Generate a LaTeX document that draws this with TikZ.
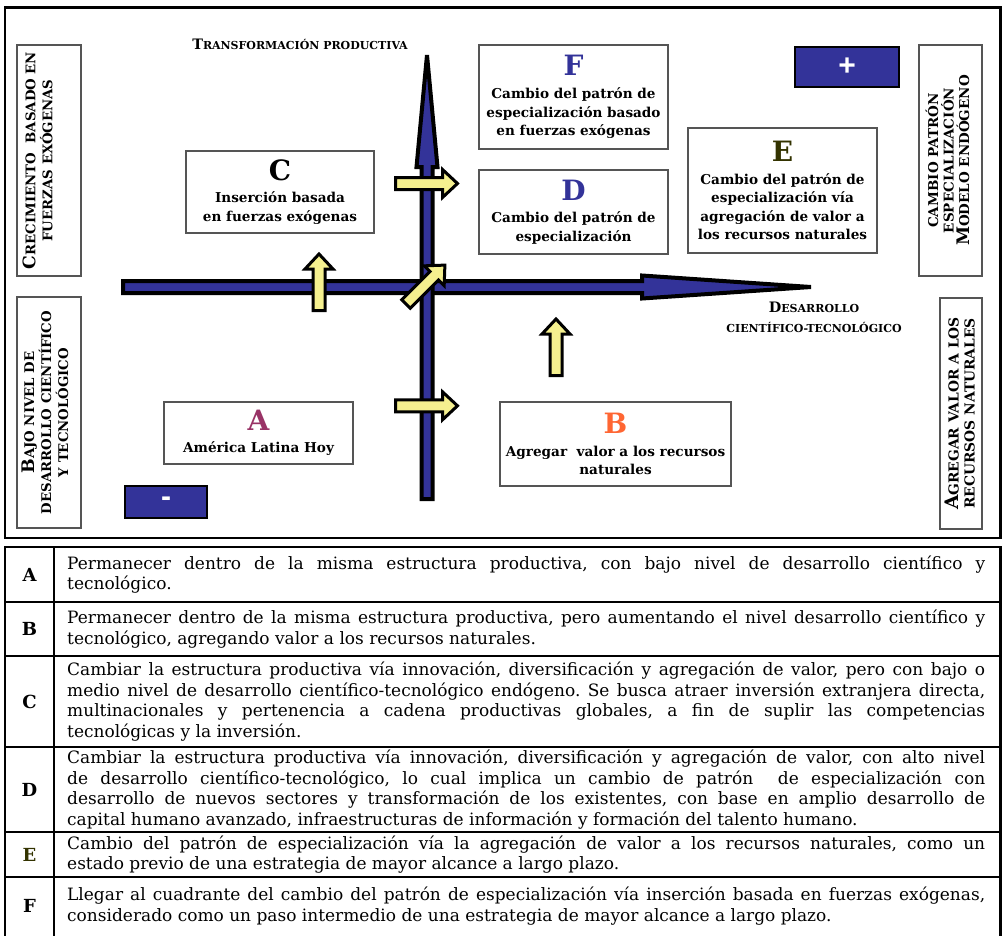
\documentclass[tikz,border=0pt]{standalone}
\usepackage{fontspec}
\setmainfont{DejaVu Serif}
\setsansfont{Liberation Sans}
\usepackage{relsize}
\definecolor{axisblue}{HTML}{333399}
\definecolor{arrowyellow}{HTML}{F5F08F}
\definecolor{boxgray}{HTML}{555555}
\definecolor{letterA}{HTML}{993366}
\definecolor{letterB}{HTML}{FF6633}
\definecolor{letterE}{HTML}{333300}
\newcommand{\quadletter}[2]{{\color{#1}\fontsize{28}{28}\selectfont #2}}
\tolerance=10000
\hyphenpenalty=10000
\exhyphenpenalty=10000
\frenchspacing
\begin{document}
\begin{tikzpicture}[x=1pt, y=-1pt,
		box/.style={draw=boxgray, line width=1.2pt, fill=white, inner sep=0pt, align=center, font=\bfseries\fontsize{13.6}{18.5}\selectfont},
		sidebox/.style={draw=boxgray, line width=1.2pt, inner sep=0pt},
		sidetext/.style={rotate=90, align=center, inner sep=0pt, font=\bfseries\fontsize{13.3}{17}\selectfont},
		signbox/.style={draw=black, line width=1.5pt, fill=axisblue, text=white, inner sep=0pt, font=\sffamily\bfseries\fontsize{30}{30}\selectfont},
		axis/.style={draw=black, line width=4pt, fill=axisblue},
		yelarrow/.style={draw=black, line width=3pt, fill=arrowyellow},
		axislabel/.style={align=center, inner sep=0pt, font=\bfseries\fontsize{11}{20}\selectfont},
		rowkey/.style={inner sep=0pt, font=\bfseries\fontsize{18}{18}\selectfont},
		rowtext/.style={anchor=west, inner sep=0pt, text width=918pt, align=justify, font=\fontsize{17}{20.5}\selectfont},
		pics/yarrow/.style={code={\draw[yelarrow] (0,-6) -- (#1-15,-6) -- (#1-15,-14) -- (#1,0) -- (#1-15,14) -- (#1-15,6) -- (0,6) -- cycle;}}]
		\useasboundingbox (0,0) rectangle (1003,935);
		\draw[line width=2.5pt] (5,7.5) rectangle (1000.5,538);

		\draw[axis] (123,281) -- (642,281) -- (642,275.5) -- (811,287) -- (642,298.5) -- (642,293) -- (123,293) -- cycle;
		\draw[axis] (421.5,499) -- (421.5,167) -- (416.5,167) -- (427,55) -- (437.5,167) -- (432.5,167) -- (432.5,499) -- cycle;

		\pic at (395.5,183.5) {yarrow=62};
		\pic at (395.5,405.8) {yarrow=62};
		\pic[rotate=90] at (319,310.5) {yarrow=56.5};
		\pic[rotate=90] at (556,375.5) {yarrow=56.5};
		\pic[rotate=45] at (406,304) {yarrow=55};

		\node[axislabel] (trans) at (300,44.5) {\textscale{1.3}{T}RANSFORMACIÓN PRODUCTIVA};
		\node[axislabel] (desa) at (814,317) {\textscale{1.3}{D}ESARROLLO\\CIENTÍFICO-TECNOLÓGICO};

		\node[box, minimum width=189, minimum height=104] (boxF) at (573.5,97) {\quadletter{axisblue}{F}\\[5pt]Cambio del patrón de\\especialización basado\\en fuerzas exógenas};
		\node[box, minimum width=189, minimum height=84] (boxD) at (573.5,212) {\quadletter{axisblue}{D}\\[4pt]Cambio del patrón de\\especialización};
		\node[box, minimum width=189, minimum height=125] (boxE) at (782.5,190.5) {\quadletter{letterE}{E}\\[4pt]Cambio del patrón de\\especialización vía\\agregación de valor a\\los recursos naturales};
		\node[box, minimum width=188, minimum height=82] (boxC) at (280,192) {\quadletter{black}{C}\\[4pt]Inserción basada\\en fuerzas exógenas};
		\node[box, minimum width=189, minimum height=62] (boxA) at (258.5,433) {\quadletter{letterA}{A}\\[4pt]América Latina Hoy};
		\node[box, minimum width=231, minimum height=84] (boxB) at (615.5,444) {\quadletter{letterB}{B}\\[4pt]Agregar~~valor a los recursos\\naturales};

		\node[signbox, minimum width=104, minimum height=40] (plus) at (847,67) {+};
		\node[signbox, minimum width=82, minimum height=32] (minus) at (166,502) {-};

		\node[sidebox, minimum width=64, minimum height=231] (crec) at (49,160.5) {};
		\node[sidetext] at ([xshift=-11.5]crec.center) {\textscale{1.35}{C}RECIMIENTO~~BASADO EN\\FUERZAS EXÓGENAS};
		\node[sidebox, minimum width=64, minimum height=231] (bajo) at (49,412.5) {};
		\node[sidetext] at ([xshift=-4]bajo.center) {\textscale{1.35}{B}AJO NIVEL DE\\DESARROLLO CIENTÍFICO\\Y TECNOLÓGICO};
		\node[sidebox, minimum width=63, minimum height=231] (cambio) at (950.5,160.5) {};
		\node[sidetext, font=\bfseries\fontsize{13.5}{15.5}\selectfont] at ([xshift=-3]cambio.center) {CAMBIO PATRÓN\\ESPECIALIZACIÓN\\\textscale{1.35}{M}ODELO ENDÓGENO};
		\node[sidebox, minimum width=42, minimum height=231] (agreg) at (961,413.5) {};
		\node[sidetext, font=\bfseries\fontsize{13.8}{16}\selectfont] at ([xshift=-1]agreg.center) {\textscale{1.35}{A}GREGAR VALOR A LOS\\RECURSOS NATURALES};

		\draw[line width=2.5pt] (5,937) -- (5,547) -- (1000.5,547) -- (1000.5,937);
		\draw[line width=2pt] (54,547) -- (54,937);
		\foreach \y in {602,656,747,832,877}
			\draw[line width=1.6pt] (5,\y) -- (1000.5,\y);

		\node[rowkey] (kA) at (29.5,574.5) {A};
		\node[rowtext] (tA) at (67,574.5) {Permanecer dentro de la misma estructura productiva, con bajo nivel de desarrollo científico y\linebreak tecnológico.};
		\node[rowkey] (kB) at (29.5,629) {B};
		\node[rowtext] (tB) at (67,629) {Permanecer dentro de la misma estructura productiva, pero aumentando el nivel desarrollo científico y\linebreak tecnológico, agregando valor a los recursos naturales.};
		\node[rowkey] (kC) at (29.5,701.5) {C};
		\node[rowtext] (tC) at (67,701.5) {Cambiar la estructura productiva vía innovación, diversificación y agregación de valor, pero con bajo o\linebreak medio nivel de desarrollo científico-tecnológico endógeno. Se busca atraer inversión extranjera directa,\linebreak multinacionales y pertenencia a cadena productivas globales, a fin de suplir las competencias\linebreak tecnológicas y la inversión.};
		\node[rowkey] (kD) at (29.5,789.5) {D};
		\node[rowtext] (tD) at (67,789.5) {Cambiar la estructura productiva vía innovación, diversificación y agregación de valor, con alto nivel\linebreak de desarrollo científico-tecnológico, lo cual implica un cambio de patrón~ de especialización con\linebreak desarrollo de nuevos sectores y transformación de los existentes, con base en amplio desarrollo de\linebreak capital humano avanzado, infraestructuras de información y formación del talento humano.};
		\node[rowkey, text=letterE] (kE) at (29.5,854.5) {E};
		\node[rowtext] (tE) at (67,854.5) {Cambio del patrón de especialización vía la agregación de valor a los recursos naturales, como un\linebreak estado previo de una estrategia de mayor alcance a largo plazo.};
		\node[rowkey] (kF) at (29.5,906) {F};
		\node[rowtext] (tF) at (67,906) {Llegar al cuadrante del cambio del patrón de especialización vía inserción basada en fuerzas exógenas,\linebreak considerado como un paso intermedio de una estrategia de mayor alcance a largo plazo.};
	\end{tikzpicture}
\end{document}
